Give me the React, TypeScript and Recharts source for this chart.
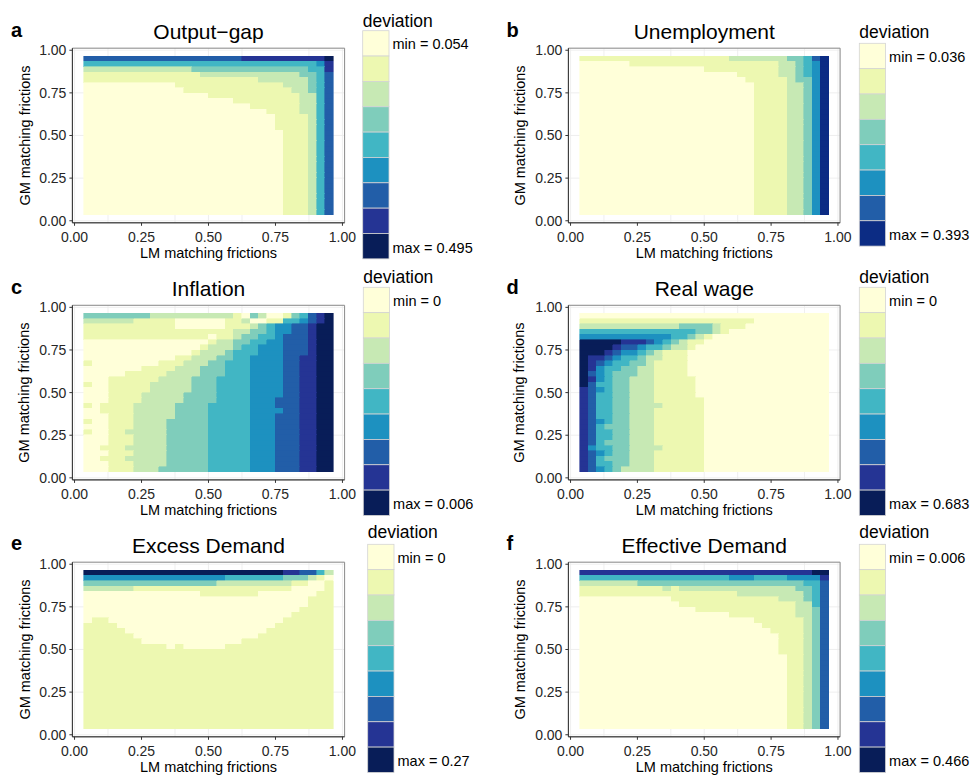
import React from "react";
import { ScatterChart, Scatter, XAxis, YAxis, CartesianGrid, ReferenceArea } from "recharts";

// ---------- data ----------
// LM (x) and GM (y) matching-friction grid values (30 x 30)
const lmFrictions = [0.05, 0.081, 0.1121, 0.1431, 0.1741, 0.2052, 0.2362, 0.2672, 0.2983, 0.3293, 0.3603, 0.3914, 0.4224, 0.4534, 0.4845, 0.5155, 0.5466, 0.5776, 0.6086, 0.6397, 0.6707, 0.7017, 0.7328, 0.7638, 0.7948, 0.8259, 0.8569, 0.8879, 0.919, 0.95];
const gmFrictions = [0.05, 0.081, 0.1121, 0.1431, 0.1741, 0.2052, 0.2362, 0.2672, 0.2983, 0.3293, 0.3603, 0.3914, 0.4224, 0.4534, 0.4845, 0.5155, 0.5466, 0.5776, 0.6086, 0.6397, 0.6707, 0.7017, 0.7328, 0.7638, 0.7948, 0.8259, 0.8569, 0.8879, 0.919, 0.95];
const axisTicks = [0, 0.25, 0.5, 0.75, 1];
const gridTicks = [0, 0.125, 0.25, 0.375, 0.5, 0.625, 0.75, 0.875, 1];

const ylgnbu9 = ["#ffffd9", "#edf8b1", "#c7e9b4", "#7fcdbb", "#41b6c4", "#1d91c0", "#225ea8", "#253494", "#081d58"];
const ylgnbu8 = ["#ffffd9", "#edf8b1", "#c7e9b4", "#7fcdbb", "#41b6c4", "#1d91c0", "#225ea8", "#0c2c84"];

const panelLetters = ["a", "b", "c", "d", "e", "f"];
const panelTitles = ["Output\u2212gap", "Unemployment", "Inflation", "Real wage", "Excess Demand", "Effective Demand"];
const legendMin = ["min = 0.054", "min = 0.036", "min = 0", "min = 0", "min = 0", "min = 0.006"];
const legendMax = ["max = 0.495", "max = 0.393", "max = 0.006", "max = 0.683", "max = 0.27", "max = 0.466"];

// deviation class per cell (0 = min ... n-1 = max); rows listed from GM = 0.95 (top) down to 0.05
const outputGap = [
  "6666666666 6666666667 7777777778",
  "4444444444 4444444444 4444444457",
  "2222222222 2223333333 3333333447",
  "1111111111 1111222222 2222223346",
  "1111111111 1111111111 1222222346",
  "0000000000 0111111111 1111222346",
  "0000000000 0011111111 1111122346",
  "0000000000 0000011111 1111112246",
  "0000000000 0000000011 1111112246",
  "0000000000 0000000000 1111112246",
  "0000000000 0000000000 0011112246",
  "0000000000 0000000000 0001111246",
  "0000000000 0000000000 0001111246",
  "0000000000 0000000000 0001111246",
  "0000000000 0000000000 0000111246",
  "0000000000 0000000000 0000111246",
  "0000000000 0000000000 0000111246",
  "0000000000 0000000000 0000111246",
  "0000000000 0000000000 0000111246",
  "0000000000 0000000000 0000111246",
  "0000000000 0000000000 0000111246",
  "0000000000 0000000000 0000111246",
  "0000000000 0000000000 0000111246",
  "0000000000 0000000000 0000111246",
  "0000000000 0000000000 0000111246",
  "0000000000 0000000000 0000111246",
  "0000000000 0000000000 0000111246",
  "0000000000 0000000000 0000111246",
  "0000000000 0000000000 0000111246",
  "0000000000 0000000000 0000111246",
];

const unemployment = [
  "1111111111 1111111122 2222233467",
  "0000001111 1111111111 1111223457",
  "0000000000 0000011111 1111223457",
  "0000000000 0000000001 1111223457",
  "0000000000 0000000000 1111123357",
  "0000000000 0000000000 0111122357",
  "0000000000 0000000000 0111122357",
  "0000000000 0000000000 0111122357",
  "0000000000 0000000000 0111122357",
  "0000000000 0000000000 0111122357",
  "0000000000 0000000000 0111122357",
  "0000000000 0000000000 0111122357",
  "0000000000 0000000000 0111122357",
  "0000000000 0000000000 0111122357",
  "0000000000 0000000000 0111122357",
  "0000000000 0000000000 0111122357",
  "0000000000 0000000000 0111122357",
  "0000000000 0000000000 0111122357",
  "0000000000 0000000000 0111122357",
  "0000000000 0000000000 0111122357",
  "0000000000 0000000000 0111122357",
  "0000000000 0000000000 0111122357",
  "0000000000 0000000000 0111122357",
  "0000000000 0000000000 0111122357",
  "0000000000 0000000000 0111122357",
  "0000000000 0000000000 0111122357",
  "0000000000 0000000000 0111122357",
  "0000000000 0000000000 0111122357",
  "0000000000 0000000000 0111122357",
  "0000000000 0000000000 0111122357",
];

const inflation = [
  "3333333322 2222222210 3200134678",
  "2222221111 1000000112 0011445678",
  "1111111111 1000000111 2345566788",
  "1111111111 1111111122 3345566788",
  "1111111111 1111101123 3445666788",
  "0000000000 0000012233 4455666788",
  "0000000000 0000122234 4555666788",
  "0000000000 0001222344 4555666788",
  "0000000000 0112223344 5555667788",
  "1000000001 1122233444 5555667788",
  "0000000111 1222333444 5555667788",
  "0000011111 2222333444 5555667788",
  "0001111112 2223334444 5555667788",
  "1001111122 2223334444 5555667788",
  "0001111122 2223334444 5555667788",
  "0001111222 2233334444 5555667788",
  "0001111222 2233334444 5556667788",
  "1011112222 2333344444 5556667788",
  "0011112222 2333344444 5555667788",
  "0001112222 2333344444 5556667788",
  "1001112222 3333344444 5556667788",
  "0001112222 3333344444 5556667788",
  "1001122222 3333344444 5556667788",
  "0001112222 3333344444 5556667788",
  "0001112222 3333344444 5556667788",
  "0011122222 3333344444 5556667788",
  "0001112222 3333344444 5556667788",
  "0011122222 3333344444 5556667788",
  "0001112222 3333344444 5556667788",
  "0001112223 3333344444 5556667788",
];

const realWage = [
  "0000000000 0000000000 0000000000",
  "1111111111 1111111111 1000000000",
  "2222222222 2233332111 0000000000",
  "4444444444 4444332100 0000000000",
  "5555555555 5443210000 0000000000",
  "8888877765 4321100000 0000000000",
  "8888766544 3221000000 0000000000",
  "8887655432 1110000000 0000000000",
  "8776544322 1110000000 0000000000",
  "8765443321 1110000000 0000000000",
  "8754433221 1110000000 0000000000",
  "8654333221 1110000000 0000000000",
  "8754332221 1111000000 0000000000",
  "8644332221 1111000000 0000000000",
  "7654332221 1111000000 0000000000",
  "7644332221 1111000000 0000000000",
  "7644332221 1111100000 0000000000",
  "7644332222 1111100000 0000000000",
  "7644332221 1111100000 0000000000",
  "7644332221 1111100000 0000000000",
  "7654332221 1111100000 0000000000",
  "7643332221 1111100000 0000000000",
  "7644332221 1111100000 0000000000",
  "7644332221 1111100000 0000000000",
  "7643332221 1111100000 0000000000",
  "7544332222 1111100000 0000000000",
  "7654332221 1111100000 0000000000",
  "7643332221 1111100000 0000000000",
  "7644332221 1111100000 0000000000",
  "7654322221 1111100000 0000000000",
];

const excessDemand = [
  "8888888888 8888888888 8888776642",
  "5555555555 5555555444 4444333210",
  "3333333333 3333332222 2222211001",
  "2222221111 1111111111 1111100001",
  "0000000000 0000111111 1000000011",
  "0000000000 0000000000 0000000111",
  "0000000000 0000000000 0000000111",
  "0000000000 0000000000 0000001111",
  "0000000000 0000000000 0000011111",
  "0110000000 0000000000 0000111111",
  "1111000000 0000000000 0001111111",
  "1111100000 0000000000 0011111111",
  "1111110000 0000000000 0111111111",
  "1111111000 0000000001 1111111111",
  "1111111111 0100000111 1111111111",
  "1111111111 1111111111 1111111111",
  "1111111111 1111111111 1111111111",
  "1111111111 1111111111 1111111111",
  "1111111111 1111111111 1111111111",
  "1111111111 1111111111 1111111111",
  "1111111111 1111111111 1111111111",
  "1111111111 1111111111 1111111111",
  "1111111111 1111111111 1111111111",
  "1111111111 1111111111 1111111111",
  "1111111111 1111111111 1111111111",
  "1111111111 1111111111 1111111111",
  "1111111111 1111111111 1111111111",
  "1111111111 1111111111 1111111111",
  "1111111111 1111111111 1111111111",
  "1111111111 1111111111 1111111111",
];

const effectiveDemand = [
  "7777777777 7777777777 7777777788",
  "4444444444 4444444455 5444455557",
  "2222222333 3333333333 3333333446",
  "1111111111 2122222222 2222223346",
  "1111111111 1111111112 2222222346",
  "0000000000 0111111111 1111222346",
  "0000000000 0011111111 1111112246",
  "0000000000 0000111111 1111112236",
  "0000000000 0000000011 1111112236",
  "0000000000 0000000000 0111111236",
  "0000000000 0000000000 0011111236",
  "0000000000 0000000000 0001111236",
  "0000000000 0000000000 0000111236",
  "0000000000 0000000000 0000111236",
  "0000000000 0000000000 0000111236",
  "0000000000 0000000000 0000111236",
  "0000000000 0000000000 0000011236",
  "0000000000 0000000000 0000011236",
  "0000000000 0000000000 0000011236",
  "0000000000 0000000000 0000011236",
  "0000000000 0000000000 0000011236",
  "0000000000 0000000000 0000011236",
  "0000000000 0000000000 0000011236",
  "0000000000 0000000000 0000011236",
  "0000000000 0000000000 0000011236",
  "0000000000 0000000000 0000011236",
  "0000000000 0000000000 0000011236",
  "0000000000 0000000000 0000011236",
  "0000000000 0000000000 0000011236",
  "0000000000 0000000000 0000011236",
];

const panelGrids = [outputGap, unemployment, inflation, realWage, excessDemand, effectiveDemand];
const panelPalettes = [ylgnbu9, ylgnbu8, ylgnbu9, ylgnbu9, ylgnbu9, ylgnbu9];

// ---------- layout ----------
const FONT = '"Liberation Sans", Arial, Helvetica, sans-serif';
const X_DOMAIN: [number, number] = [-0.008, 1.008];
const Y_DOMAIN: [number, number] = [-0.012, 1.012];
const HALF = 0.0155;
const COLS = [
  { x0: 0, L: 72.4, R: 344.6, yTitleX: 29.5, letterX: 11 },
  { x0: 490, L: 568.4, R: 840.1, yTitleX: 524.5, letterX: 506.5 },
];
const ROWS = [
  { top: 0, T: 48.2, B: 222.8, off: 0 },
  { top: 257, T: 305.3, B: 479.9, off: 257 },
  { top: 514, T: 562.2, B: 736.8, off: 513.5 },
];
const LEGENDS = [
  { x: 362.7, top: 30.7, title: 26.5 },
  { x: 859.3, top: 43.3, title: 38.3 },
  { x: 363.3, top: 287.3, title: 282.7 },
  { x: 859.3, top: 287.3, title: 282.7 },
  { x: 367.7, top: 544.3, title: 538.3 },
  { x: 859.3, top: 544.3, title: 538.3 },
];
const BOX_W = 26.3;
const BOX_H = 25.35;

type Tile = { x1: number; x2: number; y1: number; y2: number; level: number };

function buildTiles(rows: string[]): Tile[] {
  const out: Tile[] = [];
  const n = lmFrictions.length;
  rows.forEach((raw, r) => {
    let s = raw.replace(/\s/g, "");
    while (s.length < n) s += s[s.length - 1];
    s = s.slice(0, n);
    const yc = gmFrictions[rows.length - 1 - r];
    let start = 0;
    for (let c = 1; c <= n; c++) {
      if (c === n || s[c] !== s[start]) {
        out.push({
          x1: lmFrictions[start] - HALF,
          x2: lmFrictions[c - 1] + HALF,
          y1: yc - HALF,
          y2: yc + HALF,
          level: Number(s[start]),
        });
        start = c;
      }
    }
  });
  return out;
}

const anchor = [{ x: 0, y: 0 }, { x: 1, y: 1 }];
const tickStyle = { fontSize: 14, fill: "#262626", fontFamily: FONT };

function Heatmap({ idx }: { idx: number }) {
  const col = COLS[idx % 2];
  const row = ROWS[Math.floor(idx / 2)];
  const palette = panelPalettes[idx];
  const tiles = buildTiles(panelGrids[idx]);
  const width = col.R - col.x0 + 22;
  const height = row.B - row.top + 40;
  return (
    <div style={{ position: "absolute", left: col.x0, top: row.top, width, height }}>
      <ScatterChart
        width={width}
        height={height}
        margin={{ top: row.T - row.top, right: width - (col.R - col.x0), bottom: 0, left: 0 }}
      >
        <XAxis xAxisId="g" type="number" dataKey="x" domain={X_DOMAIN} ticks={gridTicks} hide allowDataOverflow />
        <YAxis yAxisId="g" type="number" dataKey="y" domain={Y_DOMAIN} ticks={gridTicks} hide allowDataOverflow />
        <CartesianGrid xAxisId="g" yAxisId="g" stroke="#ebebeb" strokeWidth={0.8} />
        <XAxis
          type="number"
          dataKey="x"
          domain={X_DOMAIN}
          ticks={axisTicks}
          interval={0}
          allowDataOverflow
          height={40}
          tickSize={3}
          tickMargin={6}
          tickFormatter={(v: number) => v.toFixed(2)}
          tick={tickStyle}
          axisLine={{ stroke: "#333333" }}
          tickLine={{ stroke: "#333333" }}
        />
        <YAxis
          type="number"
          dataKey="y"
          domain={Y_DOMAIN}
          ticks={axisTicks}
          interval={0}
          allowDataOverflow
          width={col.L - col.x0}
          tickSize={3}
          tickMargin={3}
          tickFormatter={(v: number) => v.toFixed(2)}
          tick={tickStyle}
          axisLine={{ stroke: "#333333" }}
          tickLine={{ stroke: "#333333" }}
        />
        {tiles.map((t, i) => (
          <ReferenceArea
            key={i}
            x1={t.x1}
            x2={t.x2}
            y1={t.y1}
            y2={t.y2}
            fill={palette[t.level]}
            fillOpacity={1}
            stroke={palette[t.level]}
            strokeWidth={0.6}
            shapeRendering="crispEdges"
            ifOverflow="visible"
          />
        ))}
        <ReferenceArea
          x1={X_DOMAIN[0]}
          x2={X_DOMAIN[1]}
          y1={Y_DOMAIN[0]}
          y2={Y_DOMAIN[1]}
          fill="none"
          fillOpacity={0}
          stroke="#8c8c8c"
          strokeWidth={1}
          ifOverflow="visible"
        />
        <Scatter data={anchor} isAnimationActive={false} shape={() => <g />} />
      </ScatterChart>
    </div>
  );
}

function Annotations() {
  return (
    <svg
      width={971}
      height={776}
      style={{ position: "absolute", left: 0, top: 0, pointerEvents: "none" }}
      fontFamily={FONT}
    >
      {panelTitles.map((title, idx) => {
        const col = COLS[idx % 2];
        const row = ROWS[Math.floor(idx / 2)];
        const leg = LEGENDS[idx];
        const palette = panelPalettes[idx];
        const cx = (col.L + col.R) / 2;
        const cy = (row.T + row.B) / 2;
        return (
          <g key={idx}>
            <text x={col.letterX} y={36.8 + row.off} fontSize={20} fontWeight="bold" fill="#000">
              {panelLetters[idx]}
            </text>
            <text x={cx} y={39 + row.off} fontSize={21} textAnchor="middle" fill="#000">
              {title}
            </text>
            <text x={cx} y={258 + row.off} fontSize={14.5} textAnchor="middle" fill="#000">
              LM matching frictions
            </text>
            <text
              x={col.yTitleX}
              y={cy}
              fontSize={14.5}
              textAnchor="middle"
              fill="#000"
              transform={`rotate(-90 ${col.yTitleX} ${cy})`}
            >
              GM matching frictions
            </text>
            <text x={leg.x} y={leg.title} fontSize={17.5} fill="#000">
              deviation
            </text>
            {palette.map((c, k) => (
              <rect
                key={k}
                x={leg.x}
                y={leg.top + k * BOX_H}
                width={BOX_W}
                height={BOX_H}
                fill={c}
                stroke="#d4d4d4"
                strokeWidth={0.8}
              />
            ))}
            <text x={leg.x + BOX_W + 3.5} y={leg.top + BOX_H / 2 + 1} fontSize={14.5} dominantBaseline="central" fill="#000">
              {legendMin[idx]}
            </text>
            <text
              x={leg.x + BOX_W + 3.5}
              y={leg.top + (palette.length - 0.5) * BOX_H + 1.5}
              fontSize={14.5}
              dominantBaseline="central"
              fill="#000"
            >
              {legendMax[idx]}
            </text>
          </g>
        );
      })}
    </svg>
  );
}

export default function App() {
  return (
    <div
      style={{
        position: "absolute",
        left: 0,
        top: 0,
        width: 971,
        height: 776,
        background: "#ffffff",
        fontFamily: FONT,
        overflow: "hidden",
      }}
    >
      {panelTitles.map((_, idx) => (
        <Heatmap key={idx} idx={idx} />
      ))}
      <Annotations />
    </div>
  );
}
